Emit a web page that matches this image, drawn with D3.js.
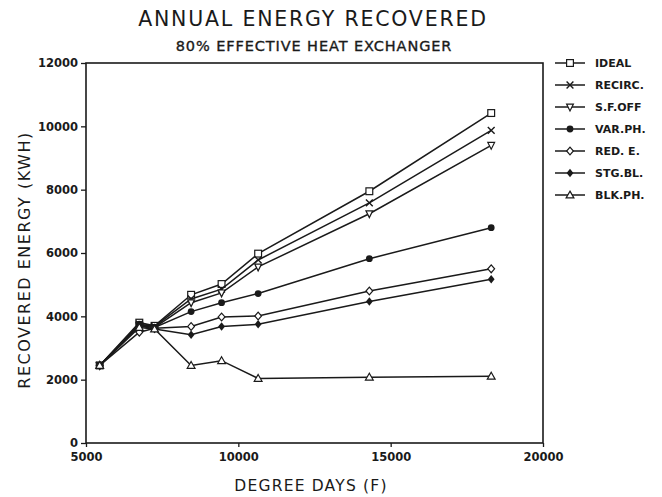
<!DOCTYPE html>
<html>
<head>
<meta charset="utf-8">
<script src="https://cdn.jsdelivr.net/npm/d3@7"></script>
<style>
  body { margin: 0; background: #fff; }
  text { font-family: "DejaVu Sans", "Liberation Sans", sans-serif; fill: #1a1a1a; }
</style>
</head>
<body>
<div id="chart"></div>
<script>
const degreeDays = [5450, 6750, 7250, 8450, 9450, 10650, 14300, 18300];

const ideal = [2450, 3800, 3700, 4680, 5020, 5980, 7950, 10420];
const recirc = [2450, 3750, 3680, 4550, 4860, 5780, 7580, 9870];
const sfOff = [2450, 3700, 3650, 4430, 4740, 5560, 7240, 9400];
const varPh = [2450, 3750, 3650, 4150, 4430, 4720, 5820, 6800];
const redE = [2450, 3500, 3620, 3680, 3980, 4010, 4800, 5500];
const stgBl = [2450, 3700, 3600, 3420, 3680, 3750, 4470, 5170];
const blkPh = [2450, 3650, 3600, 2450, 2600, 2040, 2080, 2110];

const seriesNames = ["IDEAL", "RECIRC.", "S.F.OFF", "VAR.PH.", "RED. E.", "STG.BL.", "BLK.PH."];
const seriesValues = [ideal, recirc, sfOff, varPh, redE, stgBl, blkPh];
const markerTypes = ["square", "cross", "triDown", "circle", "diamondOpen", "diamond", "triUp"];

const xTicks = [5000, 10000, 15000, 20000];
const yTicks = [0, 2000, 4000, 6000, 8000, 10000, 12000];

const W = 662, H = 497;
const margin = { top: 63, right: 119, bottom: 54, left: 86 };
const width = W - margin.left - margin.right;
const height = H - margin.top - margin.bottom;
const ink = "#1a1a1a";

const svg = d3.select("#chart").append("svg")
  .attr("width", W)
  .attr("height", H);

const x = d3.scaleLinear().domain([5000, 20000]).range([0, width]);
const y = d3.scaleLinear().domain([0, 12000]).range([height, 0]);

const g = svg.append("g").attr("transform", `translate(${margin.left},${margin.top})`);

// frame
g.append("rect")
  .attr("width", width).attr("height", height)
  .attr("fill", "none").attr("stroke", ink).attr("stroke-width", 1.6);

const xAxis = g.append("g")
  .attr("transform", `translate(0,${height})`)
  .call(d3.axisBottom(x).tickValues(xTicks).tickSize(4).tickPadding(6).tickFormat(d3.format("d")));
const yAxis = g.append("g")
  .call(d3.axisLeft(y).tickValues(yTicks).tickSize(5).tickPadding(3).tickFormat(d3.format("d")));

[xAxis, yAxis].forEach(a => {
  a.select(".domain").remove();
  a.selectAll(".tick line").attr("stroke", ink).attr("stroke-width", 1.3);
  a.selectAll(".tick text")
    .style("font-family", "'DejaVu Sans', sans-serif")
    .style("font-size", "11.5px")
    .style("font-weight", "bold")
    .attr("fill", ink);
});

// markers
function drawMarker(sel, type, cx, cy) {
  const m = sel.append("g").attr("transform", `translate(${cx},${cy})`);
  const s = 3.4;
  if (type === "square") {
    m.append("rect").attr("x", -s).attr("y", -s).attr("width", 2 * s).attr("height", 2 * s)
      .attr("fill", "#fff").attr("stroke", ink).attr("stroke-width", 1.2);
  } else if (type === "cross") {
    m.append("path").attr("d", `M${-s},${-s}L${s},${s}M${-s},${s}L${s},${-s}`)
      .attr("stroke", ink).attr("stroke-width", 1.4);
  } else if (type === "triDown") {
    m.append("path").attr("d", `M${-s},${-s + 0.5}L${s},${-s + 0.5}L0,${s + 0.5}Z`)
      .attr("fill", "#fff").attr("stroke", ink).attr("stroke-width", 1.2);
  } else if (type === "circle") {
    m.append("circle").attr("r", s).attr("fill", ink);
  } else if (type === "diamondOpen") {
    m.append("path").attr("d", `M0,${-s - 0.5}L${s},0L0,${s + 0.5}L${-s},0Z`)
      .attr("fill", "#fff").attr("stroke", ink).attr("stroke-width", 1.2);
  } else if (type === "diamond") {
    m.append("path").attr("d", `M0,${-s - 0.8}L${s},0L0,${s + 0.8}L${-s},0Z`)
      .attr("fill", ink);
  } else if (type === "triUp") {
    m.append("path").attr("d", `M0,${-s - 0.5}L${s + 0.5},${s - 0.5}L${-s - 0.5},${s - 0.5}Z`)
      .attr("fill", "#fff").attr("stroke", ink).attr("stroke-width", 1.2);
  }
}

const line = d3.line().x((d, i) => x(degreeDays[i])).y(d => y(d));

seriesValues.forEach((vals, k) => {
  g.append("path").datum(vals)
    .attr("d", line)
    .attr("fill", "none")
    .attr("stroke", ink)
    .attr("stroke-width", 1.5);
});
seriesValues.forEach((vals, k) => {
  vals.forEach((v, i) => drawMarker(g, markerTypes[k], x(degreeDays[i]), y(v)));
});

// legend
const legend = svg.append("g").attr("transform", "translate(555,63)");
seriesNames.forEach((name, k) => {
  const row = legend.append("g").attr("transform", `translate(0,${k * 22})`);
  row.append("line").attr("x1", 0).attr("x2", 30).attr("stroke", ink).attr("stroke-width", 1.5);
  drawMarker(row, markerTypes[k], 15, 0);
  row.append("text").attr("x", 40).attr("y", 4)
    .style("font-size", "11px").style("font-weight", "bold")
    .text(name);
});

// titles
svg.append("text")
  .attr("x", 313).attr("y", 26)
  .attr("text-anchor", "middle")
  .style("font-size", "20.5px")
  .style("letter-spacing", "1.8px")
  .text("ANNUAL ENERGY RECOVERED");

svg.append("text")
  .attr("x", 314).attr("y", 51)
  .attr("text-anchor", "middle")
  .style("font-size", "14.5px")
  .style("letter-spacing", "0.9px")
  .style("stroke", "#1a1a1a")
  .style("stroke-width", "0.35px")
  .text("80% EFFECTIVE HEAT EXCHANGER");

svg.append("text")
  .attr("x", 311).attr("y", 491)
  .attr("text-anchor", "middle")
  .style("font-size", "15.5px")
  .style("letter-spacing", "1.2px")
  .text("DEGREE DAYS (F)");

svg.append("text")
  .attr("transform", "translate(30,260) rotate(-90)")
  .attr("text-anchor", "middle")
  .style("font-size", "16px")
  .style("letter-spacing", "1.5px")
  .text("RECOVERED ENERGY (KWH)");
</script>
</body>
</html>
